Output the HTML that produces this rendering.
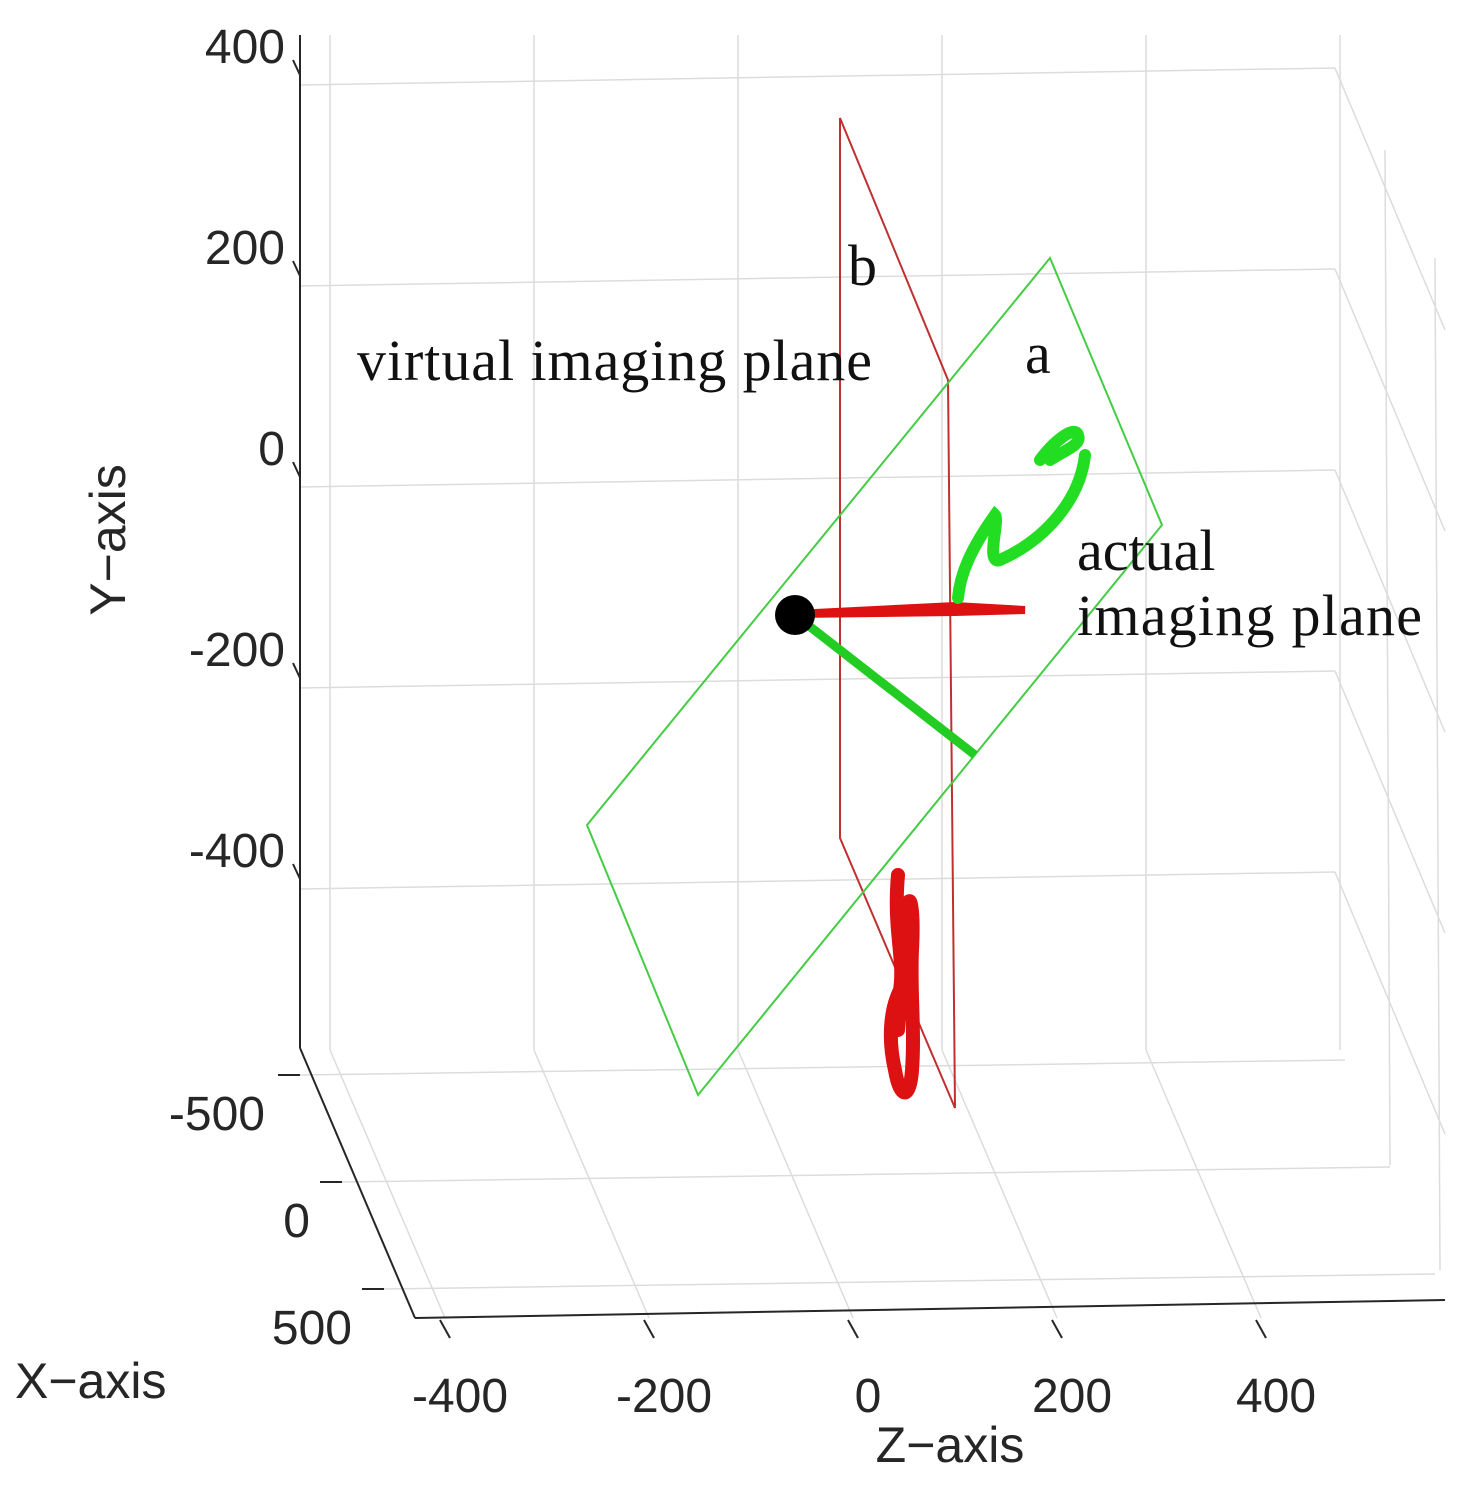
<!DOCTYPE html>
<html><head><meta charset="utf-8"><style>
html,body{margin:0;padding:0;background:#fff;}
svg{display:block;}
.tk{font-family:"Liberation Sans",sans-serif;font-size:48px;fill:#262626;}
.ttl{font-family:"Liberation Sans",sans-serif;font-size:50px;fill:#262626;}
.lab{font-family:"Liberation Serif",serif;font-size:58px;fill:#111;}
.grid{stroke:#dcdcdc;stroke-width:1.5;fill:none;}
.ax{stroke:#262626;stroke-width:2;fill:none;}
</style></head><body>
<svg id="chart" width="1481" height="1495" viewBox="0 0 1481 1495">
<g id="grid"></g>
<g id="axes"></g>
<g id="marks">
  <polygon points="840,118 948,380 955,1108 840,838" fill="none" stroke="#c03030" stroke-width="2"/>
  <polygon points="1050,258 1162,525 698,1095 587,825" fill="none" stroke="#44cc44" stroke-width="2"/>
  <line x1="795" y1="615" x2="975" y2="755" stroke="#22cc22" stroke-width="9"/>
  <path d="M795,614 L955,612 L1025,610 L955,606 Z" fill="#dd1111" stroke="#dd1111" stroke-width="8"/>
  <path d="M1040,460 C1055,440 1075,425 1078,435 C1082,445 1065,450 1050,460 M1085,455 C1080,500 1045,540 1000,560 C985,565 1000,520 995,515 C970,550 960,575 958,598" fill="none" stroke="#22dd22" stroke-width="12" stroke-linecap="round"/>
  <path d="M898,875 C893,930 905,960 900,990 C890,1010 888,1040 895,1070 C900,1100 910,1100 912,1070 C915,1030 910,990 912,950 C914,910 910,880 905,920 C902,960 900,1000 898,1030" fill="none" stroke="#dd1111" stroke-width="14" stroke-linecap="round"/>
  <circle cx="795" cy="615" r="20" fill="#000"/>
</g>
<text class="lab" x="848" y="285">b</text>
<text class="lab" x="357" y="380" textLength="515">virtual imaging plane</text>
<text class="lab" x="1025" y="373">a</text>
<text class="lab" x="1077" y="570">actual</text>
<text class="lab" x="1077" y="635" textLength="345">imaging plane</text>
<text class="ttl" x="0" y="0" transform="translate(125,540) rotate(-90)" text-anchor="middle">Y−axis</text>
<text class="ttl" x="15" y="1398">X−axis</text>
<text class="ttl" x="950" y="1462" text-anchor="middle">Z−axis</text>
</svg>
<script>
const yTicks=[400,200,0,-200,-400];
const zTicks=[-400,-200,0,200,400];
const xTicks=[-500,0,500];
const NS="http://www.w3.org/2000/svg";
function yPix(v){return 450-v*1.005;}
function zPix(v){return 868+v*1.02;}
const svg=document.getElementById('chart');
const grid=document.getElementById('grid'), axes=document.getElementById('axes');
function ln(g,x1,y1,x2,y2,c){const l=document.createElementNS(NS,'line');l.setAttribute('x1',x1);l.setAttribute('y1',y1);l.setAttribute('x2',x2);l.setAttribute('y2',y2);l.setAttribute('class',c);g.appendChild(l);return l;}
function tx(s,x,y,a){const t=document.createElementNS(NS,'text');t.setAttribute('x',x);t.setAttribute('y',y);t.setAttribute('class','tk');t.setAttribute('text-anchor',a);t.textContent=s;svg.appendChild(t);return t;}
yTicks.forEach(v=>{const y=yPix(v)+37;
 const g=ln(grid,300,y,1335,y-17,'grid');
 
 
 const d=ln(grid,1335,y-17,1445,y+245,'grid');
 
 
 const tk=ln(axes,293,y-25,300,y-10,'ax');
 
 
 const t=tx(String(v),285,yPix(v)+15,'end');
 
 
});
zTicks.concat([600]).forEach(v=>{const xb=zPix(v)-130-(v===600?10:0);
 const g=ln(grid,xb,35,xb,1050,'grid');
 
 
});
zTicks.forEach(v=>{const xb=zPix(v)-130, xf=zPix(v)-15;
 const d=ln(grid,xb,1050,xf,1318,'grid');
 
 
 const tk=ln(axes,xf-5,1320,xf+5,1338,'ax');
 
 
 const t=tx(String(v),zPix(v),1412,'middle');
 
 
});
xTicks.forEach((v,i)=>{const y=1075+i*107, x0=300+i*42;
 const g=ln(grid,x0,y,1345+i*45,y-15,'grid');
 
 
 const tk=ln(axes,x0-22,y,x0,y,'ax');
 
 
 const t=tx(String(v),[265,310,352][i],y+55,'end');
 
 
});
[[1385,150,1390,1165],[1435,258,1440,1270]].forEach(p=>{const l=ln(grid,p[0],p[1],p[2],p[3],'grid');
 
 });
const a1=ln(axes,300,35,300,1048,'ax');


const a2=ln(axes,300,1048,415,1318,'ax');


const a3=ln(axes,415,1318,1445,1300,'ax');


</script>
</body></html>
